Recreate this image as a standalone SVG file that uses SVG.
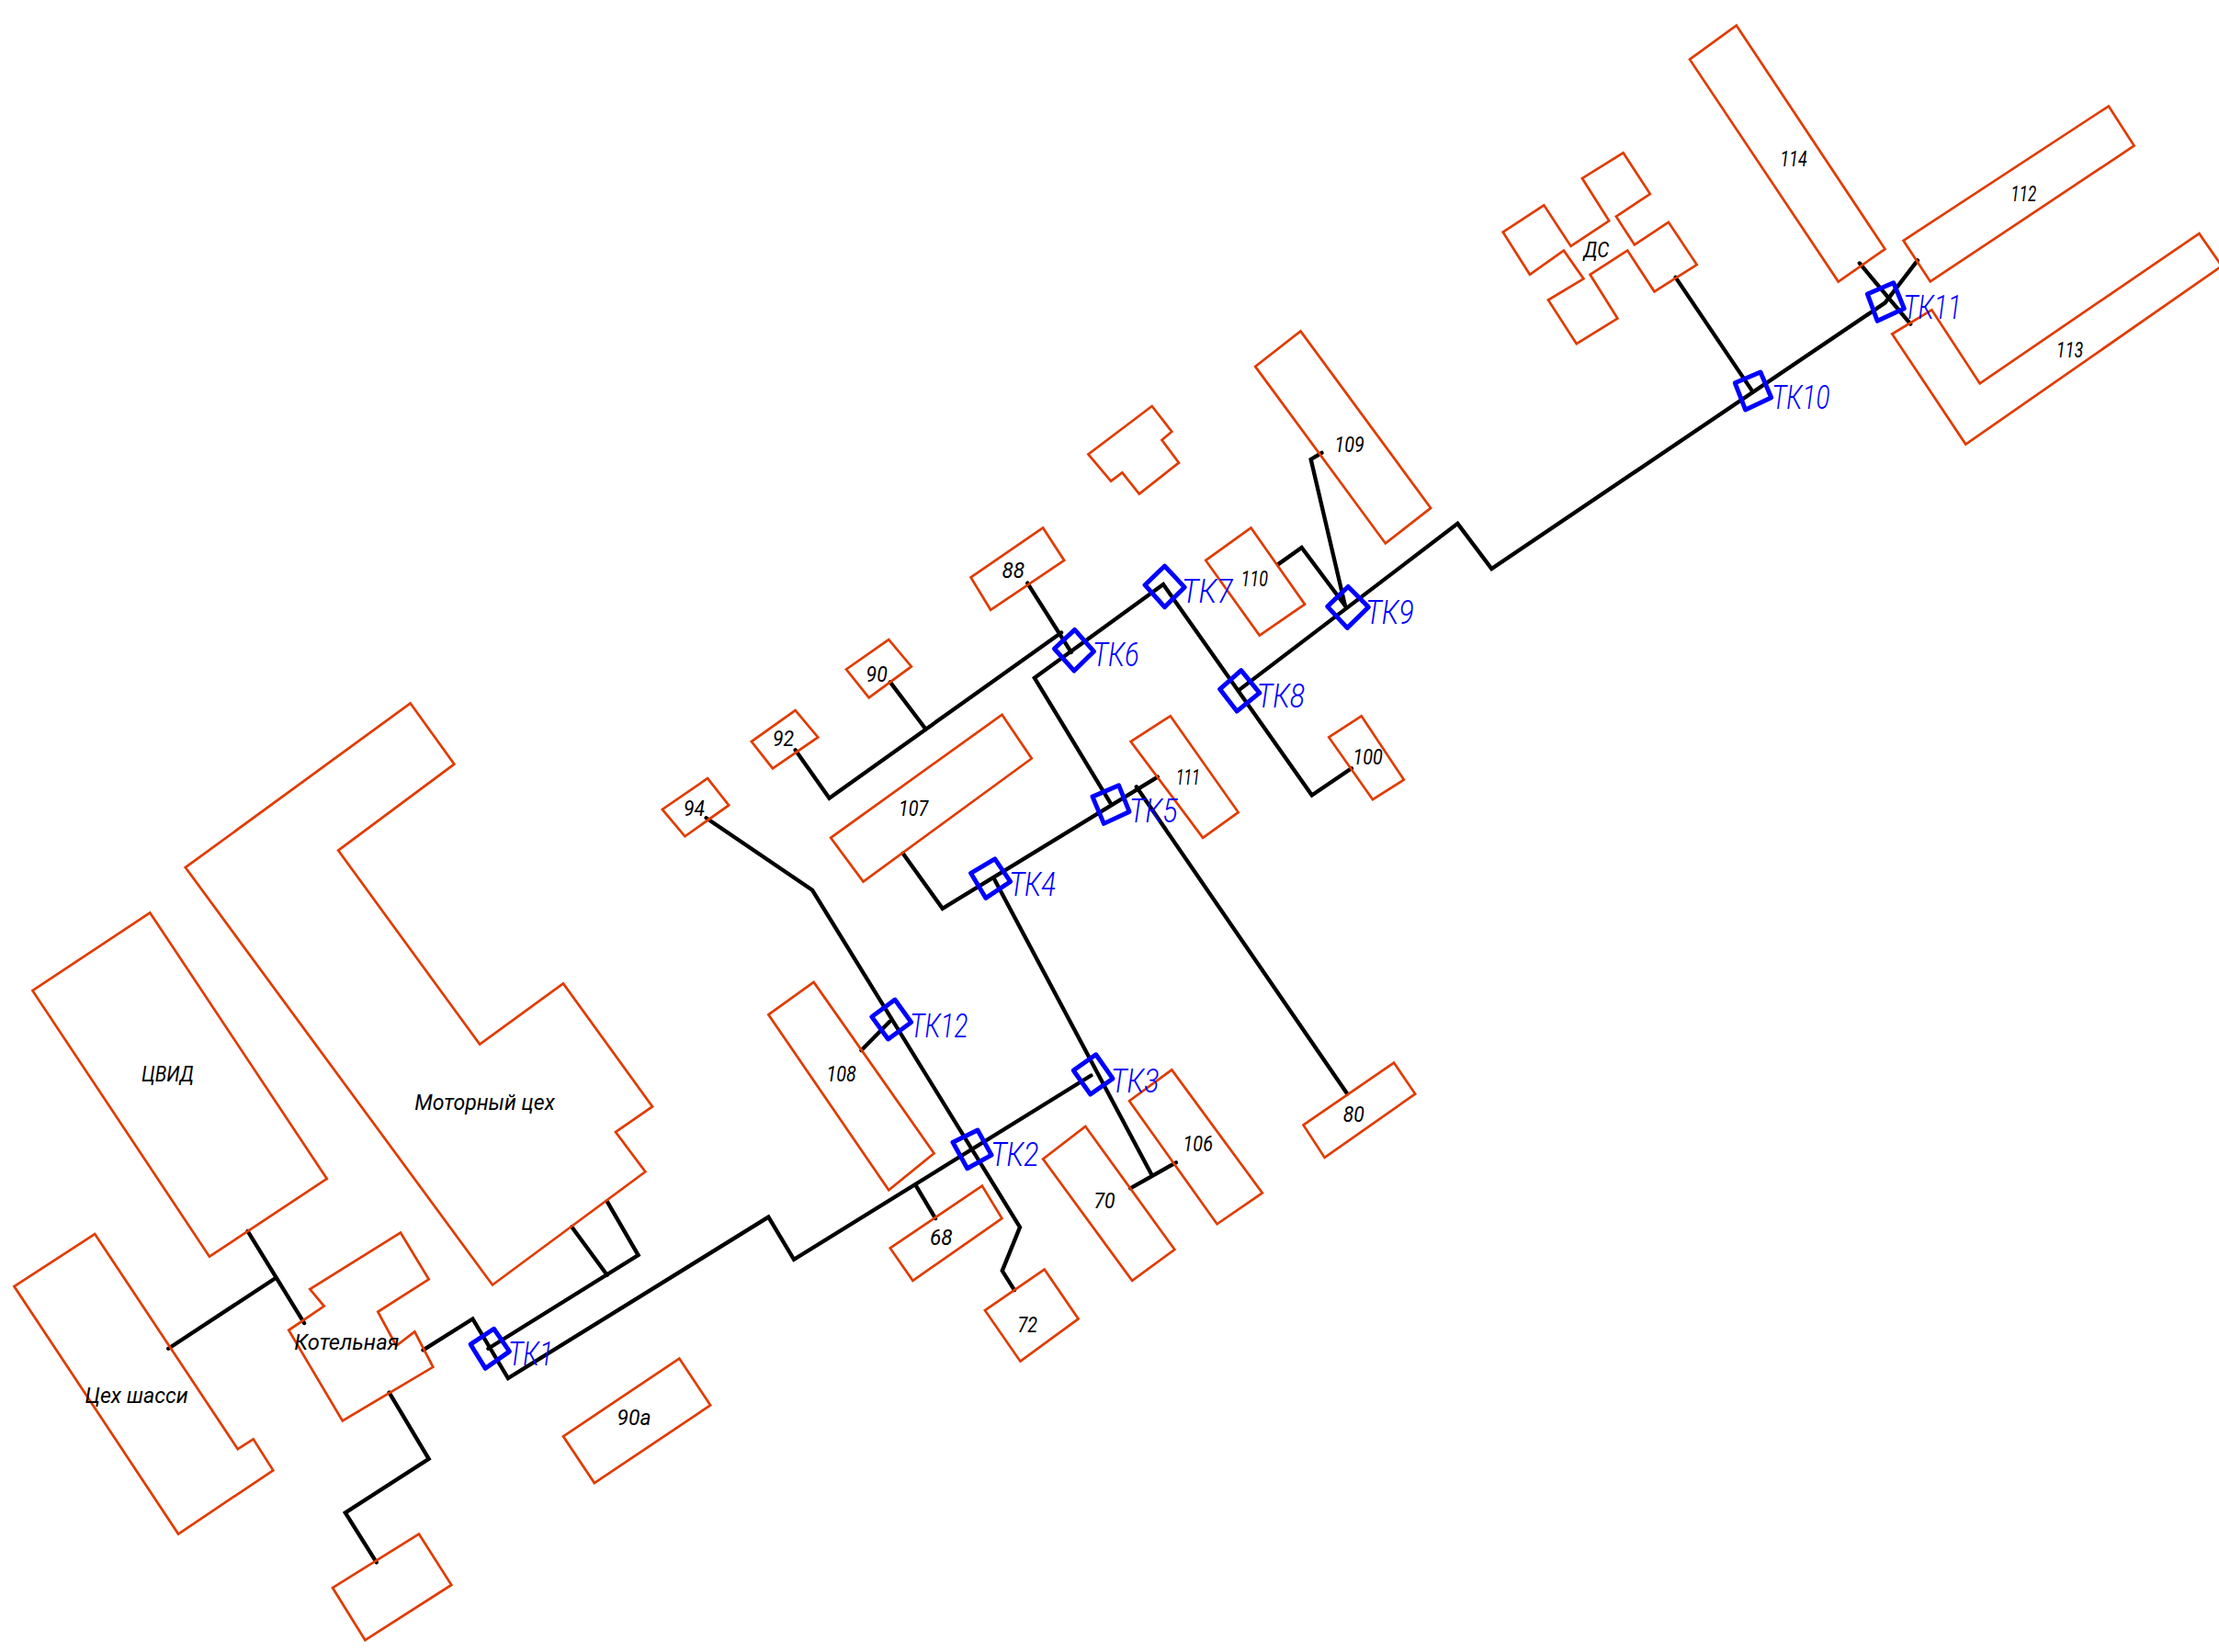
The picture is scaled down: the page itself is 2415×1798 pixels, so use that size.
<svg xmlns="http://www.w3.org/2000/svg" width="2415" height="1798" viewBox="0 0 2415 1798">
<style>
.b{fill:none;stroke:#e03c00;stroke-width:1.75;stroke-linejoin:miter}
.p{fill:none;stroke:#000;stroke-width:2.8;stroke-linejoin:miter;stroke-linecap:round}
.k{fill:none;stroke:#0000ff;stroke-width:3.2;stroke-linejoin:round}
text{font-family:"Roboto","Liberation Sans",sans-serif;font-style:italic;font-weight:400}
.l{font-size:16px;fill:#000}
.t{font-size:24px;fill:#0000ff;font-weight:300}
</style>
<rect width="2415" height="1798" fill="#fff"/>
<g transform="scale(1.54018)">
<g id="connectors">
<path class="p" d="M175 870L215 935"/>
<path class="p" d="M119 953L195 903"/>
<path class="p" d="M299 954L334 932L359 974L543 860L561 890L771 760"/>
<path class="p" d="M345 953L451 887L429 849"/>
<path class="p" d="M404 867L429 901"/>
<path class="p" d="M275 984L303 1031L244 1069L266 1104"/>
<path class="p" d="M647 837.5L661 861"/>
<path class="p" d="M499 578L574 629L720.7 867.2L708.2 898L716.8 911.7"/>
<path class="p" d="M608.6 742.3L628.7 721.8"/>
<path class="p" d="M703 622L813.7 830"/>
<path class="p" d="M798.7 839.7L831 821.5"/>
<path class="p" d="M638 603L666 642L818 549"/>
<path class="p" d="M803 556L952 773"/>
<path class="p" d="M785 568L731 479L822 413L927 562L955 543"/>
<path class="p" d="M562 530L586 564L750 447"/>
<path class="p" d="M629 482L654 515"/>
<path class="p" d="M726 412L757 461"/>
<path class="p" d="M875 488L1030 370L1054 402L1332 214L1355 184"/>
<path class="p" d="M1314 186L1350 229"/>
<path class="p" d="M1184 196L1238 276"/>
<path class="p" d="M903 398.9L919.8 387L950.5 428"/>
<path class="p" d="M950.5 428L926.3 324.6L934 320"/>
</g>
<g id="cvid"><polygon class="b" points="106,645 231,833 148,888 23,700"/><text class="l" x="100" y="764.5" textLength="37" lengthAdjust="spacingAndGlyphs">ЦВИД</text></g>
<g id="motor"><polygon class="b" points="290,497 321,540 239,601 339,738 398,695 461,782 435,800 456,828 348,908 131,613"/><text class="l" x="293" y="784.5" textLength="99" lengthAdjust="spacingAndGlyphs">Моторный цех</text></g>
<g id="shassi"><polygon class="b" points="67,872 168,1024 179,1017 193,1039 126,1084 10,909"/><text class="l" x="60" y="991.5" textLength="73" lengthAdjust="spacingAndGlyphs">Цех шасси</text></g>
<g id="kotel"><polygon class="b" points="283,871 303,904 267,927 280,951 293,941 306,966 242,1004 204,940 229,923 219,911"/><text class="l" x="208" y="953.5" textLength="74" lengthAdjust="spacingAndGlyphs">Котельная</text></g>
<g id="b-unnamed1"><polygon class="b" points="296,1084 319,1120 258,1159 235,1122"/></g>
<g id="b90a"><polygon class="b" points="480,960 502,993 420,1048 398,1015"/><text class="l" x="436" y="1007" textLength="24" lengthAdjust="spacingAndGlyphs">90а</text></g>
<g id="b108"><polygon class="b" points="575,694 660,815 628,841 543,717"/><text class="l" x="584" y="764.5" textLength="21" lengthAdjust="spacingAndGlyphs">108</text></g>
<g id="b68"><polygon class="b" points="694,838 708,861 645,905 629,882"/><text class="l" x="657" y="879.5" textLength="16" lengthAdjust="spacingAndGlyphs">68</text></g>
<g id="b72"><polygon class="b" points="738,897 762,932 721,962 696,926"/><text class="l" x="719" y="941.5" textLength="14" lengthAdjust="spacingAndGlyphs">72</text></g>
<g id="b70"><polygon class="b" points="767,796 830,883 800,905 737,819"/><text class="l" x="773" y="853.5" textLength="15" lengthAdjust="spacingAndGlyphs">70</text></g>
<g id="b106"><polygon class="b" points="828,756 892,843 860,865 798,778"/><text class="l" x="836" y="813.5" textLength="21" lengthAdjust="spacingAndGlyphs">106</text></g>
<g id="b80"><polygon class="b" points="985,751 1000,773 936,818 921,795"/><text class="l" x="949" y="792.5" textLength="15" lengthAdjust="spacingAndGlyphs">80</text></g>
<g id="b107"><polygon class="b" points="708,505 729,536 610,623 587,592"/><text class="l" x="635" y="576.5" textLength="21" lengthAdjust="spacingAndGlyphs">107</text></g>
<g id="b111"><polygon class="b" points="827,506 875,574 850,592 799,524"/><text class="l" x="831" y="554.5" textLength="17" lengthAdjust="spacingAndGlyphs">111</text></g>
<g id="b100"><polygon class="b" points="962,506 992,551 970,565 939,521"/><text class="l" x="956" y="540.5" textLength="21" lengthAdjust="spacingAndGlyphs">100</text></g>
<g id="b94"><polygon class="b" points="500,550 515,569 484,591 468,572"/><text class="l" x="483" y="576.5" textLength="15" lengthAdjust="spacingAndGlyphs">94</text></g>
<g id="b92"><polygon class="b" points="562,502 578,521 546,543 531,524"/><text class="l" x="546" y="527.5" textLength="15" lengthAdjust="spacingAndGlyphs">92</text></g>
<g id="b90"><polygon class="b" points="628,452 644,471 614,493 598,473"/><text class="l" x="612" y="481.5" textLength="15" lengthAdjust="spacingAndGlyphs">90</text></g>
<g id="b88"><polygon class="b" points="737,373 752,396 700,431 686,408"/><text class="l" x="708" y="408.5" textLength="16" lengthAdjust="spacingAndGlyphs">88</text></g>
<g id="b110"><polygon class="b" points="884,373 922,427 890,449 852,396"/><text class="l" x="877" y="414.5" textLength="19" lengthAdjust="spacingAndGlyphs">110</text></g>
<g id="b109"><polygon class="b" points="919,234 1011,359 979,384 887,259"/><text class="l" x="943" y="319.5" textLength="21" lengthAdjust="spacingAndGlyphs">109</text></g>
<g id="b-unnamed2"><polygon class="b" points="814,287 828,305 821,311 833,327 805,349 793,334 785,340 769,321"/></g>
<g id="b114"><polygon class="b" points="1227,18 1332,176 1299,199 1194,42"/><text class="l" x="1258" y="117.5" textLength="19" lengthAdjust="spacingAndGlyphs">114</text></g>
<g id="b112"><polygon class="b" points="1490,75 1508,103 1364,199 1345,170"/><text class="l" x="1421" y="142.5" textLength="18" lengthAdjust="spacingAndGlyphs">112</text></g>
<g id="b113"><polygon class="b" points="1554,165 1570,188 1389,314 1337,236 1365,219 1399,271"/><text class="l" x="1453" y="252.5" textLength="19" lengthAdjust="spacingAndGlyphs">113</text></g>
<g id="ds"><polygon class="b" points="1147,108 1166,137 1142,153 1155,173 1179,157 1199,187 1169,206 1150,177 1123.6,194 1143,225 1114,243 1094,212 1119,197 1105,177 1081,194 1062,164 1091,145 1110,174 1137,156 1118,126"/><text class="l" x="1119" y="181.5" textLength="18" lengthAdjust="spacingAndGlyphs">ДС</text></g>
<g id="tk1"><polygon class="k" points="349,939 360,955 343,967 332.5,950"/><text class="t" x="359" y="965" textLength="32" lengthAdjust="spacingAndGlyphs">ТК1</text></g>
<g id="tk2"><polygon class="k" points="690.8,798.6 700.6,816.2 683.5,825.7 673.3,807.2"/><text class="t" x="700" y="824" textLength="34" lengthAdjust="spacingAndGlyphs">ТК2</text></g>
<g id="tk3"><polygon class="k" points="774.4,745.2 786.3,762.2 770.5,773.3 758.5,756.4"/><text class="t" x="785" y="772" textLength="34" lengthAdjust="spacingAndGlyphs">ТК3</text></g>
<g id="tk4"><polygon class="k" points="703,607 714,623 696.6,634.6 686,617"/><text class="t" x="713" y="633" textLength="33" lengthAdjust="spacingAndGlyphs">ТК4</text></g>
<g id="tk5"><polygon class="k" points="790.6,555 798,573.6 780,582 772,563"/><text class="t" x="798" y="581" textLength="34" lengthAdjust="spacingAndGlyphs">ТК5</text></g>
<g id="tk6"><polygon class="k" points="759.4,445 773,460.4 759,474 745,458.4"/><text class="t" x="772" y="471" textLength="33" lengthAdjust="spacingAndGlyphs">ТК6</text></g>
<g id="tk7"><polygon class="k" points="823,400 837,415 823,429 809,413.4"/><text class="t" x="835" y="426" textLength="36" lengthAdjust="spacingAndGlyphs">ТК7</text></g>
<g id="tk8"><polygon class="k" points="877,473.7 890,489.6 874,502.6 862,487"/><text class="t" x="888" y="500" textLength="34" lengthAdjust="spacingAndGlyphs">ТК8</text></g>
<g id="tk9"><polygon class="k" points="952.6,414.5 967,429 952,443.7 938,428.6"/><text class="t" x="965" y="441" textLength="34" lengthAdjust="spacingAndGlyphs">ТК9</text></g>
<g id="tk10"><polygon class="k" points="1244,263 1251.6,281 1233.4,289.6 1226,270.6"/><text class="t" x="1252" y="289" textLength="41" lengthAdjust="spacingAndGlyphs">ТК10</text></g>
<g id="tk11"><polygon class="k" points="1338,199.8 1345.5,218 1326.6,226.8 1319.6,207.8"/><text class="t" x="1345" y="225" textLength="41" lengthAdjust="spacingAndGlyphs">ТК11</text></g>
<g id="tk12"><polygon class="k" points="632.4,706.4 643.9,722.4 627.6,734.3 616,718.5"/><text class="t" x="643" y="733" textLength="41" lengthAdjust="spacingAndGlyphs">ТК12</text></g>
</g>
</svg>
